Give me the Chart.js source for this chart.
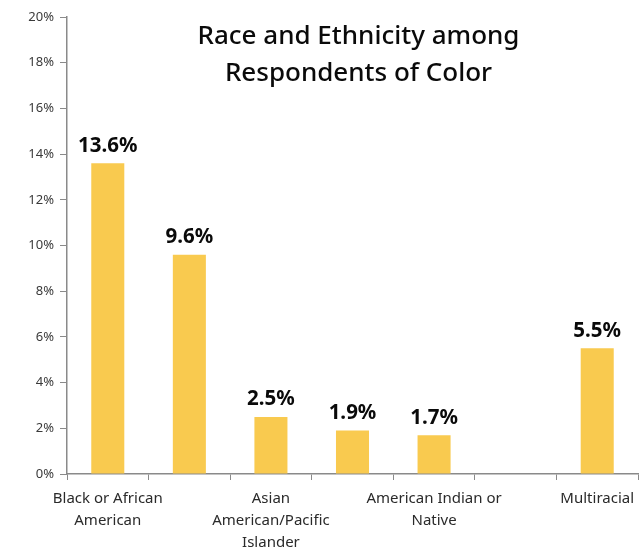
<!DOCTYPE html>
<html>
<head>
<meta charset="utf-8">
<script src="https://cdn.jsdelivr.net/npm/chart.js@4"></script>
<style>
  html, body { margin: 0; padding: 0; background: #fff; }
  #wrap { width: 644px; height: 550px; }
</style>
</head>
<body>
<div id="wrap"><canvas id="myChart"></canvas></div>
<script>
// data
const categories = [
  ['Black or African', 'American'],
  '',
  ['Asian', 'American/Pacific', 'Islander'],
  '',
  ['American Indian or', 'Native'],
  '',
  'Multiracial'
];
const percents = [13.6, 9.6, 2.5, 1.9, 1.7, null, 5.5];
const yTicks = [0, 2, 4, 6, 8, 10, 12, 14, 16, 18, 20];
const titleLines = ['Race and Ethnicity among', 'Respondents of Color'];

const FONT = '"Noto Sans", Lato, sans-serif';

// title sits inside the plot area
const titlePlugin = {
  id: 'innerTitle',
  afterDraw(chart) {
    const { ctx, chartArea } = chart;
    const cx = (chartArea.left + chartArea.right) / 2 + 6;
    ctx.save();
    ctx.font = '500 26px ' + FONT;
    ctx.fillStyle = '#0a0a0a';
    ctx.textAlign = 'center';
    ctx.textBaseline = 'middle';
    titleLines.forEach((t, i) => ctx.fillText(t, cx, chartArea.top + 20 + i * 37));
    ctx.restore();
  }
};

// value labels above bars
const valuePlugin = {
  id: 'valueLabels',
  afterDatasetsDraw(chart) {
    const { ctx } = chart;
    const meta = chart.getDatasetMeta(0);
    ctx.save();
    ctx.font = 'bold 20.5px ' + FONT;
    ctx.fillStyle = '#0a0a0a';
    ctx.textAlign = 'center';
    ctx.textBaseline = 'bottom';
    meta.data.forEach((bar, i) => {
      const v = percents[i];
      if (v == null) return;
      ctx.fillText(v.toFixed(1) + '%', bar.x, bar.y - 7);
    });
    ctx.restore();
  }
};

new Chart(document.getElementById('myChart'), {
  type: 'bar',
  data: {
    labels: categories,
    datasets: [{
      data: percents,
      backgroundColor: '#F9CA4F',
      barPercentage: 0.5,
      categoryPercentage: 0.81
    }]
  },
  options: {
    responsive: true,
    maintainAspectRatio: false,
    animation: false,
    layout: { padding: { top: 17, right: 6, left: 0, bottom: 0 } },
    plugins: {
      legend: { display: false },
      tooltip: { enabled: false }
    },
    scales: {
      x: {
        grid: { display: true, drawOnChartArea: false, drawTicks: true, tickLength: 6, color: '#8a8a8a' },
        border: { color: '#8a8a8a', width: 1.5 },
        ticks: {
          color: '#2a2a2a',
          font: { family: FONT, size: 15, lineHeight: 1.45 },
          maxRotation: 0,
          autoSkip: false,
          padding: 8
        },
        afterFit(s) { s.height = 76; }
      },
      y: {
        min: 0,
        max: 20,
        afterBuildTicks(s) { s.ticks = yTicks.map(v => ({ value: v })); },
        grid: { display: true, drawOnChartArea: false, drawTicks: true, tickLength: 7, color: '#8a8a8a' },
        border: { color: '#8a8a8a', width: 1.5 },
        ticks: {
          color: '#3a3a3a',
          font: { family: FONT, size: 13 },
          padding: 6,
          callback: v => v + '%'
        },
        afterFit(s) { s.width = 67; }
      }
    }
  },
  plugins: [titlePlugin, valuePlugin]
});
</script>
</body>
</html>
